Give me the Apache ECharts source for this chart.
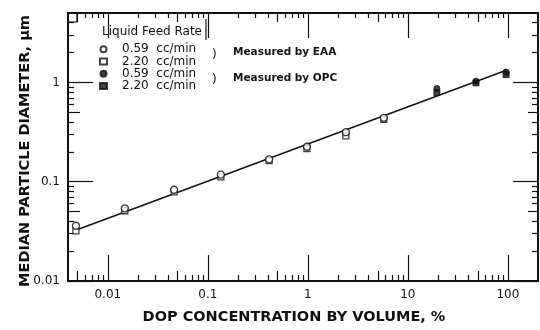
<!DOCTYPE html>
<html>
<head>
<meta charset="utf-8">
<script src="https://cdn.jsdelivr.net/npm/echarts@6/dist/echarts.min.js"></script>
<style>
  html, body { margin: 0; padding: 0; background: #fff; }
  #chart { width: 540px; height: 330px; }
</style>
</head>
<body>
<div id="chart"></div>
<script>
// DOP 浓度 vs 中值粒径
const chart = echarts.init(document.getElementById('chart'));

const xMin = 0.004;
const xMax = 200;
const yMin = 0.01;
const yMax = 5;
const xLabels = [0.01, 0.1, 1, 10, 100];
const yLabels = [0.01, 0.1, 1];

// EAA 测量
const eaaX = [0.0048, 0.0148, 0.046, 0.135, 0.41, 0.98, 2.4, 5.75];
const eaa059 = [0.036, 0.054, 0.083, 0.118, 0.168, 0.225, 0.315, 0.44];
const eaa220 = [0.032, 0.051, 0.079, 0.112, 0.163, 0.215, 0.29, 0.425];
// OPC 测量
const opcX = [19.5, 48, 96];
const opc059 = [0.87, 1.03, 1.27];
const opc220 = [0.79, 0.99, 1.2];
// 拟合线
const fitX = [0.005, 95];
const fitY = [0.033, 1.32];

const legendNames = ['EAA 0.59', 'EAA 2.20', 'OPC 0.59', 'OPC 2.20'];
const legendText = ['0.59  cc/min', '2.20  cc/min', '0.59  cc/min', '2.20  cc/min'];

const font = 'DejaVu Sans';

// 对数坐标的次刻度 (2..9)
function decadeTicks(min, max, ks) {
  const out = [];
  for (let e = -3; e <= 2; e++) {
    ks.forEach(k => {
      const v = +(k * Math.pow(10, e)).toPrecision(3);
      if (v > min && v < max) out.push(v);
    });
  }
  return out;
}
const minorKs = [2, 3, 4, 6, 7, 8, 9];
const midKs = [5];

function axis(dim, pos, vals, len, withLabel, extra) {
  const isX = dim === 'x';
  const ax = {
    type: 'log',
    logBase: 10,
    position: pos,
    min: isX ? xMin : yMin,
    max: isX ? xMax : yMax,
    axisLine: { show: true, onZero: false, lineStyle: { color: '#111', width: 1.6 } },
    axisTick: {
      show: true,
      inside: true,
      length: len,
      customValues: vals,
      lineStyle: { color: '#111', width: 1.2 }
    },
    axisLabel: { show: false },
    splitLine: { show: false },
    minorTick: { show: false }
  };
  if (withLabel) {
    ax.axisLabel = {
      show: true,
      customValues: isX ? xLabels : yLabels,
      fontFamily: font,
      fontSize: 12,
      color: '#111',
      margin: 8
    };
  }
  return Object.assign(ax, extra || {});
}

const xAxes = [
  axis('x', 'bottom', xLabels, 26, true, {
    name: 'DOP CONCENTRATION BY VOLUME, %',
    nameLocation: 'middle',
    nameGap: 29,
    nameMoveOverlap: false,
    nameTextStyle: {
      fontFamily: font, fontSize: 14.5, fontWeight: 'bold', color: '#111',
      padding: [0, 18, 0, 0]
    }
  }),
  axis('x', 'bottom', decadeTicks(xMin, xMax, midKs), 10, false),
  axis('x', 'bottom', decadeTicks(xMin, xMax, minorKs), 6, false),
  axis('x', 'top', xLabels, 25, false),
  axis('x', 'top', decadeTicks(xMin, xMax, midKs), 9, false),
  axis('x', 'top', decadeTicks(xMin, xMax, minorKs), 5, false)
];
const yAxes = [
  axis('y', 'left', yLabels, 25, true, {
    name: 'MEDIAN PARTICLE DIAMETER, \u03bcm',
    nameLocation: 'middle',
    nameGap: 35,
    nameMoveOverlap: false,
    nameTextStyle: {
      fontFamily: font, fontSize: 14.5, fontWeight: 'bold', color: '#111',
      padding: [0, 8, 0, 0]
    }
  }),
  axis('y', 'left', decadeTicks(yMin, yMax, midKs), 12, false),
  axis('y', 'left', decadeTicks(yMin, yMax, minorKs), 6, false),
  axis('y', 'right', yLabels, 25, false),
  axis('y', 'right', decadeTicks(yMin, yMax, midKs), 10, false),
  axis('y', 'right', decadeTicks(yMin, yMax, minorKs), 6, false)
];

function pairs(xs, ys) {
  return xs.map((x, i) => [x, ys[i]]);
}

const openStyle = { color: '#fff', borderColor: '#111', borderWidth: 1.3 };
const fillStyle = { color: '#111', borderColor: '#111', borderWidth: 1 };

const option = {
  backgroundColor: '#fff',
  animation: false,
  grid: { left: 68, right: 2, top: 13, bottom: 48, containLabel: false },
  xAxis: xAxes,
  yAxis: yAxes,
  legend: {
    orient: 'vertical',
    left: 99,
    top: 43,
    itemWidth: 7,
    itemHeight: 6,
    itemGap: 0,
    padding: 0,
    selectedMode: false,
    data: legendNames,
    formatter: name => legendText[legendNames.indexOf(name)],
    textStyle: { fontFamily: font, fontSize: 12, color: '#111', lineHeight: 12.3, padding: [0, 0, 0, 10] }
  },
  graphic: [
    {
      type: 'text', left: 102, top: 26,
      style: { text: 'Liquid Feed Rate', font: '12px "DejaVu Sans"', fill: '#111' }
    },
    {
      type: 'line', silent: true,
      shape: { x1: 206, y1: 19, x2: 206, y2: 40 },
      style: { stroke: '#111', lineWidth: 1.2 }
    },
    {
      type: 'rect', silent: true,
      shape: { x: 68, y: 13, width: 9, height: 9 },
      style: { fill: 'none', stroke: '#111', lineWidth: 1.2 }
    },
    {
      type: 'text', left: 212, top: 49,
      style: { text: ')', font: '12px "DejaVu Sans"', fill: '#111' }
    },
    {
      type: 'text', left: 212, top: 74,
      style: { text: ')', font: '12px "DejaVu Sans"', fill: '#111' }
    },
    {
      type: 'text', left: 233, top: 47,
      style: { text: 'Measured by EAA', font: 'bold 10.5px "DejaVu Sans"', fill: '#111' }
    },
    {
      type: 'text', left: 233, top: 73,
      style: { text: 'Measured by OPC', font: 'bold 10.5px "DejaVu Sans"', fill: '#111' }
    }
  ],
  series: [
    {
      type: 'line',
      data: pairs(fitX, fitY),
      symbol: 'none',
      silent: true,
      lineStyle: { color: '#111', width: 1.5 },
      z: 1
    },
    {
      name: legendNames[0],
      type: 'scatter',
      symbol: 'circle',
      symbolSize: 7,
      itemStyle: openStyle,
      data: pairs(eaaX, eaa059),
      z: 3
    },
    {
      name: legendNames[1],
      type: 'scatter',
      symbol: 'rect',
      symbolSize: 6,
      itemStyle: openStyle,
      data: pairs(eaaX, eaa220),
      z: 2
    },
    {
      name: legendNames[2],
      type: 'scatter',
      symbol: 'circle',
      symbolSize: 6,
      itemStyle: fillStyle,
      data: pairs(opcX, opc059),
      z: 3
    },
    {
      name: legendNames[3],
      type: 'scatter',
      symbol: 'rect',
      symbolSize: 6,
      itemStyle: fillStyle,
      data: pairs(opcX, opc220),
      z: 2
    }
  ]
};
chart.setOption(option);

window.onresize = function() {
  chart.resize();
};
</script>
</body>
</html>
